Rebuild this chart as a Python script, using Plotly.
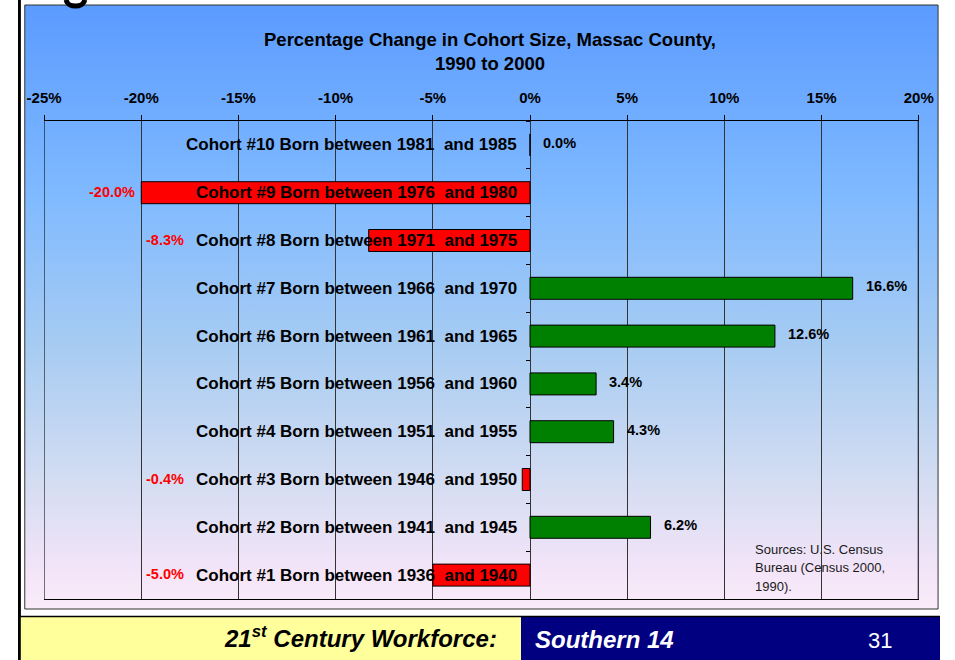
import base64
import plotly.graph_objects as go

W, H = 955, 660

# ---------------- data ----------------
cohort_labels = [
    "Cohort #1 Born between 1936  and 1940",
    "Cohort #2 Born between 1941  and 1945",
    "Cohort #3 Born between 1946  and 1950",
    "Cohort #4 Born between 1951  and 1955",
    "Cohort #5 Born between 1956  and 1960",
    "Cohort #6 Born between 1961  and 1965",
    "Cohort #7 Born between 1966  and 1970",
    "Cohort #8 Born between 1971  and 1975",
    "Cohort #9 Born between 1976  and 1980",
    "Cohort #10 Born between 1981  and 1985",
]
pct_change = [-5.0, 6.2, -0.4, 4.3, 3.4, 12.6, 16.6, -8.3, -20.0, 0.0]
x_tick_values = [-25, -20, -15, -10, -5, 0, 5, 10, 15, 20]
x_tick_labels = ["-25%", "-20%", "-15%", "-10%", "-5%", "0%", "5%", "10%", "15%", "20%"]

title_text = "Percentage Change in Cohort Size, Massac County,<br>1990 to 2000"
source_lines = ["Sources: U.S. Census", "Bureau (Census 2000,", "1990)."]
footer_left = "21<sup>st</sup> Century Workforce:"
footer_mid = "Southern 14"
footer_page = "31"

# ---------------- helpers ----------------
def px(x):
    return x / W


def py(y):
    return 1 - y / H


FONT = "Liberation Sans, Arial, sans-serif"
NEG_LABEL_LIMIT = -17.5

x_min, x_max = x_tick_values[0], x_tick_values[-1]
x_dom = [px(27), px(933)]
y_dom = [py(599), py(121)]
zero_pos = x_dom[0] + (0 - x_min) / (x_max - x_min) * (x_dom[1] - x_dom[0])

display_labels = [lbl.replace("  ", "\u00a0 ") for lbl in cohort_labels]
bar_colors = ["#FF0000" if v < 0 else "#008000" for v in pct_change]

fig = go.Figure()
fig.add_trace(go.Bar(
    x=pct_change,
    y=display_labels,
    orientation="h",
    width=0.46,
    marker=dict(color=bar_colors, line=dict(color="#000000", width=1)),
    hoverinfo="skip",
    showlegend=False,
))

# ---------------- gradient background (svg image) ----------------
stops = [
    (0.0, "rgb(91,155,255)"),
    (0.32, "rgb(128,186,255)"),
    (0.57, "rgb(168,204,242)"),
    (0.79, "rgb(212,221,242)"),
    (0.935, "rgb(243,228,248)"),
    (1.0, "rgb(250,236,250)"),
]
stop_svg = "".join(f'<stop offset="{o}" stop-color="{c}"/>' for o, c in stops)
svg = (
    '<svg xmlns="http://www.w3.org/2000/svg" width="946" height="604" '
    'preserveAspectRatio="none"><defs><linearGradient id="g" x1="0" y1="0" x2="0" y2="1">'
    + stop_svg
    + '</linearGradient></defs><rect x="0" y="0" width="946" height="604" fill="url(#g)"/></svg>'
)
src = "data:image/svg+xml;base64," + base64.b64encode(svg.encode()).decode()

images = [dict(
    source=src, xref="paper", yref="paper",
    x=px(7), y=py(5), sizex=px(953) - px(7), sizey=py(5) - py(609),
    xanchor="left", yanchor="top", sizing="stretch", layer="below",
)]

# descender of the cut-off slide title letter at the top edge
g_path = (
    f"M {px(50)},{py(0)} C {px(51)},{py(8)} {px(68)},{py(8)} {px(69)},{py(0)}"
)

# ---------------- shapes ----------------
shapes = [
    dict(type="rect", xref="paper", yref="paper", x0=px(7), x1=px(953), y0=py(609), y1=py(5),
         line=dict(color="#333333", width=1), fillcolor="rgba(0,0,0,0)", layer="above"),
    dict(type="rect", xref="paper", yref="paper", x0=0, x1=px(3), y0=0, y1=1,
         line=dict(width=0), fillcolor="#000000"),
    dict(type="rect", xref="paper", yref="paper", x0=px(3), x1=px(521), y0=0, y1=py(617),
         line=dict(width=0), fillcolor="#FFFF9C"),
    dict(type="rect", xref="paper", yref="paper", x0=px(521), x1=1, y0=0, y1=py(617),
         line=dict(width=0), fillcolor="#000080"),
    dict(type="line", xref="paper", yref="paper", x0=px(3), x1=1, y0=py(616.5), y1=py(616.5),
         line=dict(color="#000000", width=1.5)),
    dict(type="line", xref="x", yref="paper", x0=x_min, x1=x_min, y0=y_dom[0], y1=y_dom[1],
         line=dict(color="#000000", width=1)),
    dict(type="line", xref="x", yref="paper", x0=x_max, x1=x_max, y0=y_dom[0], y1=y_dom[1],
         line=dict(color="#000000", width=2)),
    dict(type="path", xref="paper", yref="paper", path=g_path,
         line=dict(color="#000000", width=5), fillcolor="rgba(0,0,0,0)"),
]

# ---------------- annotations ----------------
ann = []
for lbl in display_labels:
    ann.append(dict(x=0, y=lbl, xref="x", yref="y", text=f"<b>{lbl}</b>",
                    xanchor="right", yanchor="middle", xshift=-11, showarrow=False,
                    font=dict(family=FONT, size=17, color="#000000")))

for lbl, v in zip(display_labels, pct_change):
    if v < 0:
        ann.append(dict(x=min(v, NEG_LABEL_LIMIT), y=lbl, xref="x", yref="y",
                        text=f"<b>{v:.1f}%</b>", xanchor="right", yanchor="middle",
                        xshift=-4, yshift=1, showarrow=False,
                        font=dict(family=FONT, size=14.5, color="#FF0000")))
    else:
        ann.append(dict(x=v, y=lbl, xref="x", yref="y",
                        text=f"<b>{v:.1f}%</b>", xanchor="left", yanchor="middle",
                        xshift=11, yshift=2, showarrow=False,
                        font=dict(family=FONT, size=14.5, color="#000000")))

ann.append(dict(x=px(489), y=py(51.5), xref="paper", yref="paper", text=f"<b>{title_text}</b>",
                xanchor="center", yanchor="middle", showarrow=False,
                font=dict(family=FONT, size=18.5, color="#000000")))

for i, line in enumerate(source_lines):
    ann.append(dict(x=px(761), y=py(549 + i * 18.5), xref="paper", yref="paper", text=line,
                    xanchor="left", yanchor="middle", showarrow=False,
                    font=dict(family=FONT, size=13, color="#1a1a1a")))

ann.append(dict(x=px(498), y=py(637), xref="paper", yref="paper",
                text=f"<b><i>{footer_left}</i></b>", xanchor="right", yanchor="middle",
                showarrow=False, font=dict(family=FONT, size=24, color="#000000")))
ann.append(dict(x=px(533), y=py(639), xref="paper", yref="paper",
                text=f"<b><i>{footer_mid}</i></b>", xanchor="left", yanchor="middle",
                showarrow=False, font=dict(family=FONT, size=24, color="#FFFFFF")))
ann.append(dict(x=px(893), y=py(640), xref="paper", yref="paper",
                text=footer_page, xanchor="center", yanchor="middle",
                showarrow=False, font=dict(family=FONT, size=22, color="#FFFFFF")))

fig.update_layout(
    width=W, height=H,
    margin=dict(l=0, r=0, t=0, b=0),
    paper_bgcolor="#FFFFFF",
    plot_bgcolor="rgba(0,0,0,0)",
    bargap=0.54,
    images=images,
    shapes=shapes,
    annotations=ann,
    xaxis=dict(
        domain=x_dom, range=[x_min, x_max], side="top",
        tickmode="array", tickvals=x_tick_values, ticktext=x_tick_labels,
        ticks="outside", ticklen=5, tickcolor="#000000", tickwidth=1,
        ticklabelstandoff=6,
        tickfont=dict(family=FONT, size=15, color="#000000", weight="bold"),
        showline=True, linecolor="#000000", linewidth=1, mirror=True,
        showgrid=True, gridcolor="#333333", gridwidth=1,
        zeroline=False, fixedrange=True,
    ),
    yaxis=dict(
        domain=y_dom, range=[-0.5, len(cohort_labels) - 0.5],
        type="category", categoryorder="array", categoryarray=display_labels,
        visible=False, fixedrange=True,
    ),
    yaxis2=dict(
        domain=y_dom, range=[-0.5, len(cohort_labels) - 0.5], overlaying="y",
        anchor="free", position=zero_pos, side="left",
        tickmode="array", tickvals=[i - 0.5 for i in range(len(cohort_labels) + 1)],
        ticks="outside", ticklen=4, tickcolor="#000000", tickwidth=1,
        showticklabels=False, showline=False, showgrid=False, zeroline=False,
        fixedrange=True,
    ),
)

fig.add_trace(go.Scatter(x=[0], y=[0], yaxis="y2", mode="markers",
                         marker=dict(opacity=0), hoverinfo="skip", showlegend=False))

fig.write_html(
    "out.html",
    config={"displayModeBar": False},
    post_script=(
        "document.body.style.margin='0';"
        "document.documentElement.style.overflow='hidden';"
    ),
)
